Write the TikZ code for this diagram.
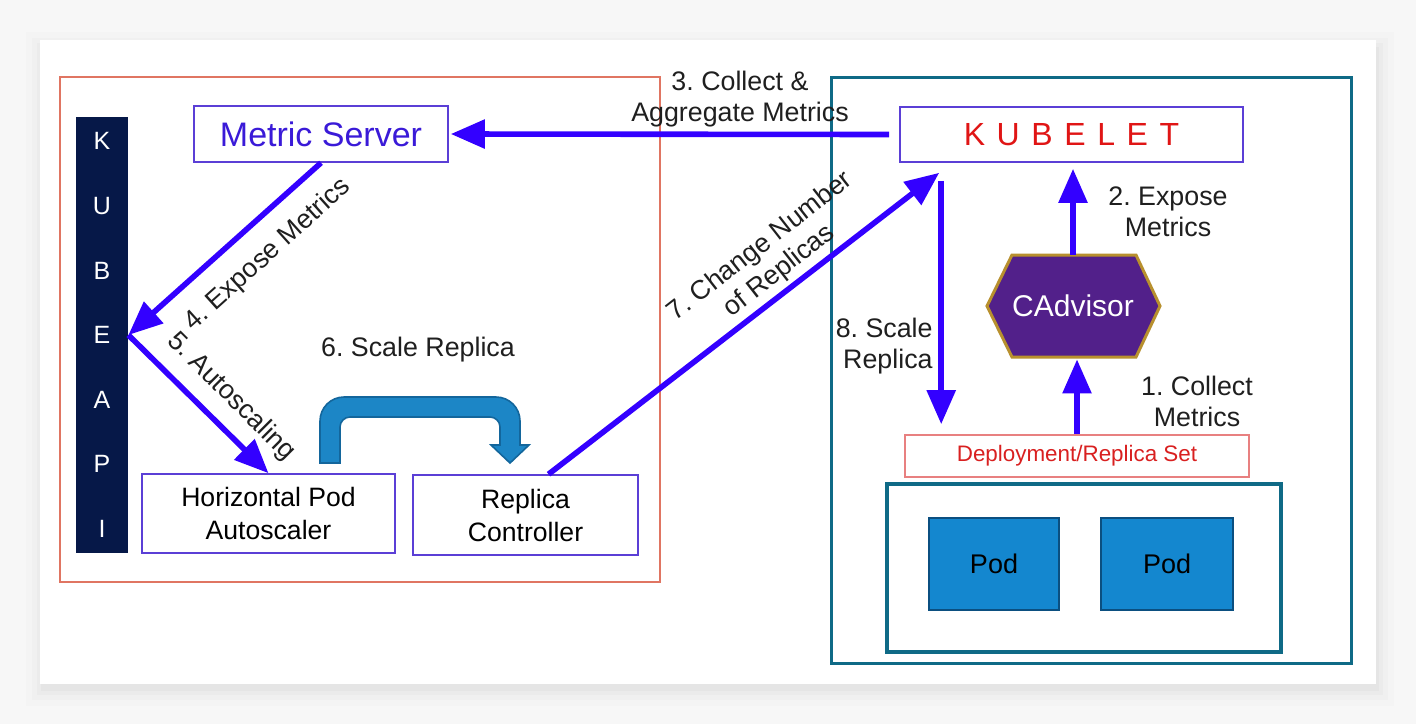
\documentclass[tikz,border=0pt]{standalone}
\usepackage{fontspec}
\setmainfont{Liberation Sans}
\usetikzlibrary{calc,arrows.meta}
\definecolor{arrowblue}{HTML}{3300FF}
\definecolor{boxline}{HTML}{5B3FD6}
\definecolor{mstext}{HTML}{3A1AD8}
\definecolor{kubred}{HTML}{E01515}
\definecolor{apinavy}{HTML}{061848}
\definecolor{framered}{HTML}{E07562}
\definecolor{frameteal}{HTML}{0F6A86}
\definecolor{hexfill}{HTML}{52208A}
\definecolor{hexline}{HTML}{B8902E}
\definecolor{depline}{HTML}{E88080}
\definecolor{deptext}{HTML}{D92020}
\definecolor{podblue}{HTML}{1487CF}
\definecolor{podline}{HTML}{0B4F80}
\definecolor{turnblue}{HTML}{1C86C6}
\definecolor{turnline}{HTML}{13669C}
\newcommand\kgap{\hspace{5.8pt}}

\begin{document}
\frenchspacing
\begin{tikzpicture}[x=0.5pt,y=-0.5pt,
    box/.style={draw=boxline,line width=0.8pt,fill=white,inner sep=0pt,align=center,font=\fontsize{13.3}{16.5}\selectfont},
    flow/.style={draw=arrowblue,line width=2.8pt,-{Triangle[length=17pt,width=14pt]}},
    lbl/.style={align=center,inner sep=0pt,text=black!88,font=\fontsize{13.4}{15.5}\selectfont},
    pod/.style={draw=podline,line width=1pt,fill=podblue,minimum width=65pt,minimum height=46pt,font=\fontsize{13.5}{16}\selectfont}]
               \useasboundingbox (0,0) rectangle (1416,724);
               \fill[black!3] (0,0) rectangle (1416,724);
               \foreach \s/\o in {18/0.012,12/0.015,7/0.02,3/0.025}
                    \fill[black,opacity=\o] (40-\s+4,40-\s+10) rectangle (1376+\s,684+\s+4);
               \fill[white] (40,40) rectangle (1376,684);
               \draw[framered,line width=1pt] (60,77) rectangle (660,582);
               \draw[frameteal,line width=1.5pt] (831,77) rectangle (1351,663);
               \node[box,minimum width=127pt,minimum height=28pt,text=mstext,font=\fontsize{17}{20}\selectfont] (ms) at (321,134) {Metric Server};
               \node[box,minimum width=171.5pt,minimum height=27.5pt,text=kubred,font=\fontsize{16}{19}\selectfont] (kubelet) at (1071.5,134.5) {K\kgap U\kgap B\kgap E\kgap L\kgap E\kgap T};
               \node[fill=apinavy,minimum width=26pt,minimum height=218pt,inner sep=0pt,align=center,text=white,font=\fontsize{12.5}{32.3}\selectfont] (api) at (102,335) {K\\U\\B\\E\\A\\P\\I};
               \node[box,minimum width=126.5pt,minimum height=39.5pt] (hpa) at (268.5,513.5) {Horizontal Pod\\Autoscaler};
               \node[box,minimum width=112.5pt,minimum height=40pt] (rc) at (525.5,515) {Replica\\Controller};
               \node[draw=depline,line width=0.8pt,fill=white,minimum width=172pt,minimum height=21pt,inner sep=0pt,text=deptext,font=\fontsize{11.2}{13}\selectfont] (dep) at (1077,456) {\raisebox{-1.5pt}{Deployment/Replica Set}};
               \node[draw=frameteal,line width=1.7pt,minimum width=197pt,minimum height=84pt] (pods) at (1084,568) {};
               \node[pod] (poda) at (994,564) {\raisebox{-1.5pt}{Pod}};
               \node[pod,minimum width=66pt] (podb) at (1167,564) {\raisebox{-1.5pt}{Pod}};
               \coordinate (cadvc) at (1073,306);
               \filldraw[fill=hexfill,draw=hexline,line width=1.5pt] ($(cadvc)+(-86,0)$) -- ($(cadvc)+(-61,-51)$) -- ($(cadvc)+(63,-51)$) -- ($(cadvc)+(87,0)$) -- ($(cadvc)+(63,51)$) -- ($(cadvc)+(-61,51)$) -- cycle;
               \node[minimum width=86.5pt,minimum height=51pt,inner sep=0pt,text=white,font=\fontsize{15}{18}\selectfont] (cadv) at (cadvc) {CAdvisor};
               \filldraw[fill=turnblue,draw=turnline,line width=0.8pt] (320,463) [rounded corners=12pt] -- (320,397) -- (520,397) [sharp corners] -- (520,445) -- (529,445) -- (510,463) -- (491,445) -- (500,445) [rounded corners=5pt] -- (500,417) -- (340,417) [sharp corners] -- (340,463) -- cycle;
               \draw[flow] ($(kubelet.west)+(-10,0)$) -- ($(ms.east)+(2,0)$);
               \draw[flow] (ms.south) -- (api.east);
               \draw[flow] (api.east) -- (hpa.north);
               \draw[flow] ($(rc.north)+(23,0)$) -- ($(kubelet.south west)+(40,10)$);
               \draw[flow] ($(kubelet.south west)+(42,18)$) -- ($(dep.north west)+(37,-10)$);
               \draw[flow] (cadv.north) -- ($(kubelet.south)+(1.5,6)$);
               \draw[flow] (dep.north) -- ($(cadv.south)+(4,2)$);
               \node[lbl] (l3) at (740,99) {3. Collect \&\\Aggregate Metrics};
               \node[lbl,rotate=42] (l4) at (268,255) {4. Expose Metrics};
               \node[lbl,rotate=-45] (l5) at (231,397) {5. Autoscaling};
               \node[lbl] (l6) at (418,350) {6. Scale Replica};
               \node[lbl,rotate=38] (l7) at (770,259) {7. Change Number\\of Replicas};
               \node[lbl,align=right,anchor=east] (l8) at (933,346) {8. Scale\\Replica};
               \node[lbl] (l2) at (1168,212) {2. Expose\\Metrics};
               \node[lbl] (l1) at (1197,401) {1. Collect\\Metrics};
          \end{tikzpicture}
\end{document}
